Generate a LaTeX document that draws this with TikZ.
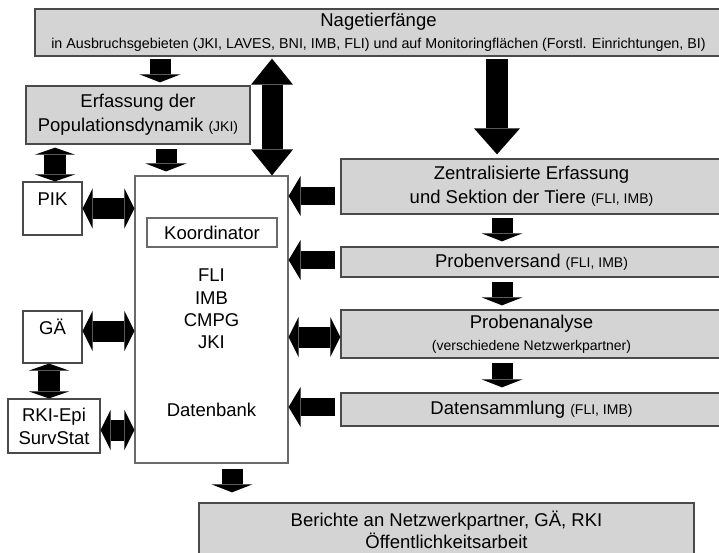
\documentclass[tikz,border=0pt]{standalone}
\usepackage{fontspec}
\setmainfont{Liberation Sans}
\usetikzlibrary{arrows.meta,calc}
\definecolor{boxgray}{HTML}{D4D4D4}
\definecolor{edgegray}{HTML}{4A4A4A}
\definecolor{maingray}{HTML}{6A6A6A}
\newcommand\bigf{\fontsize{18.5}{23}\selectfont}
\newcommand\smallf{\fontsize{14}{23}\selectfont}
\tikzset{
  graybox/.style={draw=edgegray, line width=1.3pt, fill=boxgray, inner sep=0pt, align=center, font=\bigf},
  whitebox/.style={draw=edgegray, line width=1.1pt, fill=white, inner sep=0pt, align=center, font=\bigf},
  plaintext/.style={inner sep=0pt, align=center, font=\bigf},
  arrdown/.style={line width=21pt, -{Triangle[width=41pt,length=8pt,line width=0pt]}},
  arrleft/.style={line width=18pt, -{Triangle[width=40pt,length=12pt,line width=0pt]}},
  arrboth/.style={line width=21pt, {Triangle[width=40pt,length=10pt,line width=0pt]}-{Triangle[width=40pt,length=10pt,line width=0pt]}},
  arrvboth/.style={line width=22pt, {Triangle[width=40pt,length=7pt,line width=0pt]}-{Triangle[width=40pt,length=7pt,line width=0pt]}},
  arrbig/.style={line width=22pt, -{Triangle[width=46pt,length=26pt,line width=0pt]}},
  arrbigboth/.style={line width=21pt, {Triangle[width=42pt,length=26pt,line width=0pt]}-{Triangle[width=42pt,length=26pt,line width=0pt]}}
}
\begin{document}
\begin{tikzpicture}[x=1pt,y=-1pt]
\useasboundingbox (0,0) rectangle (719,553);
\clip (0,0) rectangle (719,553);
\fill[white] (0,0) rectangle (719,553);

% boxes
\node[graybox, minimum width=687pt, minimum height=47pt, font=\fontsize{18.5}{22}\selectfont] (top) at (378.5,32.5)
  {Nagetierfänge\\{\fontsize{14.3}{22}\selectfont in Ausbruchsgebieten (JKI, LAVES, BNI, IMB, FLI) und auf Monitoringflächen (Forstl. Einrichtungen, BI)}};
\node[graybox, minimum width=224pt, minimum height=58pt, font=\fontsize{18.5}{24}\selectfont] (erf) at (138,115)
  {Erfassung der\\Populationsdynamik {\smallf(JKI)}};
\node[whitebox, minimum width=59pt, minimum height=53pt, text height=13pt, text depth=19pt] (pik) at (52.5,208.5) {PIK};
\node[whitebox, minimum width=59pt, minimum height=52pt, text height=13pt, text depth=19pt] (gae) at (52.5,337) {GÄ};
\node[whitebox, minimum width=92pt, minimum height=54pt] (rki) at (54,426) {RKI-Epi\\SurvStat};
\node[whitebox, draw=maingray, minimum width=153pt, minimum height=287pt] (main) at (211.5,319.5) {};
\node[whitebox, draw=maingray, minimum width=130pt, minimum height=29pt] (koord) at (212,232.5) {Koordinator};
\node[plaintext, font=\fontsize{18.5}{22.3}\selectfont] (inst) at (211.5,309) {FLI\\IMB\\CMPG\\JKI};
\node[plaintext] (db) at (211.5,410) {Datenbank};

\node[graybox, minimum width=381pt, minimum height=55pt, font=\fontsize{18.5}{24}\selectfont] (zen) at (531.5,186.5)
  {Zentralisierte Erfassung\\und Sektion der Tiere {\smallf(FLI, IMB)}};
\node[graybox, minimum width=381pt, minimum height=30pt] (pv) at (531.5,262) {Probenversand {\smallf(FLI, IMB)}};
\node[graybox, minimum width=381pt, minimum height=48pt, font=\fontsize{18.5}{21.5}\selectfont] (pa) at (531.5,334)
  {Probenanalyse\\{\fontsize{14}{21.5}\selectfont(verschiedene Netzwerkpartner)}};
\node[graybox, minimum width=381pt, minimum height=33pt] (ds) at (531.5,409.5) {Datensammlung {\smallf(FLI, IMB)}};
\node[graybox, minimum width=495pt, minimum height=53pt, font=\fontsize{18.5}{22}\selectfont] (ber) at (446.5,529.5)
  {Berichte an Netzwerkpartner, GÄ, RKI\\Öffentlichkeitsarbeit};

% arrows
\draw[arrdown] ($(erf.north|-top.south)+(22,2)$) -- ($(erf.north)+(22,-3)$);
\draw[arrbigboth] ($(main.north|-top.south)+(60.5,2)$) -- ($(main.north)+(60.5,0)$);
\draw[arrbig] ($(zen.north|-top.south)+(-34.5,2)$) -- ($(zen.north)+(-34.5,-4)$);
\draw[arrdown] ($(erf.south)+(28,4)$) -- ($(main.north-|erf.south)+(28,-4)$);
\draw[arrvboth] ($(pik.north|-erf.south)+(2.5,3)$) -- ($(pik.north)+(2.5,0)$);
\draw[arrboth] (pik.east) -- (main.west|-pik.east);
\draw[arrboth] ($(gae.east)+(0,-6)$) -- ($(main.west|-gae.east)+(0,-6)$);
\draw[arrvboth] ($(gae.south)+(-3.5,0)$) -- ($(rki.north-|gae.south)+(-3.5,0)$);
\draw[arrboth] ($(rki.east)+(0,4)$) -- ($(main.west|-rki.east)+(0,4)$);
\draw[arrleft] ($(zen.west)+(-5,9.5)$) -- ($(main.east|-zen.west)+(0,9.5)$);
\draw[arrleft] ($(pv.west)+(-5,-2)$) -- ($(main.east|-pv.west)+(0,-2)$);
\draw[arrboth] ($(pa.west)+(0,3)$) -- ($(main.east|-pa.west)+(0,3)$);
\draw[arrleft] ($(ds.west)+(-5,-2.5)$) -- ($(main.east|-ds.west)+(0,-2.5)$);
\draw[arrdown] ($(zen.south)+(-29.5,3)$) -- ($(pv.north)+(-29.5,-5)$);
\draw[arrdown] ($(pv.south)+(-29.5,4)$) -- ($(pa.north)+(-29.5,-4)$);
\draw[arrdown] ($(pa.south)+(-29.5,4)$) -- ($(ds.north)+(-29.5,-5)$);
\draw[arrdown] ($(main.south)+(20.5,5)$) -- ($(ber.north-|main.south)+(20.5,-10)$);
\end{tikzpicture}
\end{document}
